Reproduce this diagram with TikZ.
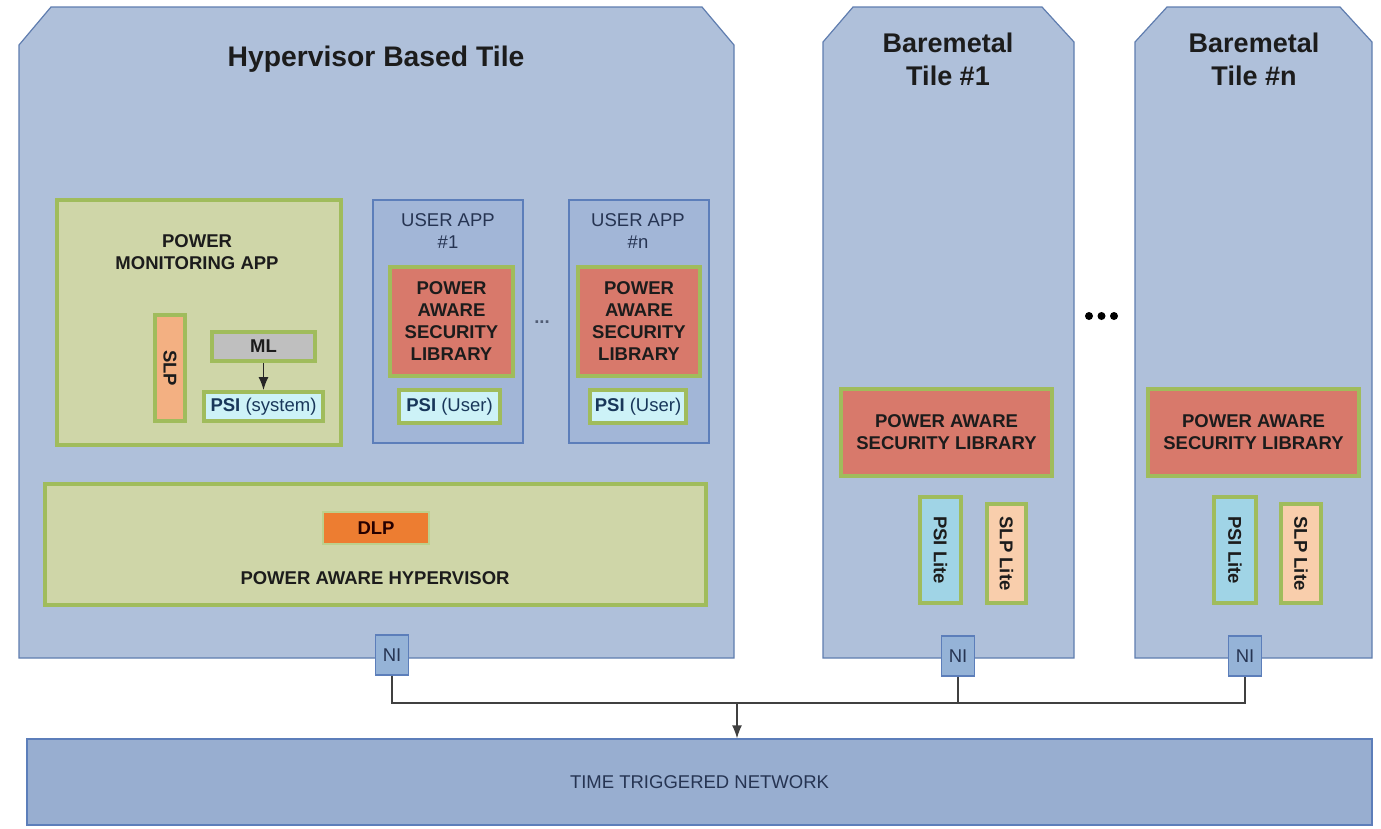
\documentclass[tikz,border=0pt]{standalone}
\usepackage{fontspec}
\setmainfont{Liberation Sans}
\usetikzlibrary{arrows.meta}

\definecolor{tilefill}{RGB}{175,192,218}
\definecolor{tileline}{RGB}{95,125,175}
\definecolor{appfill}{RGB}{162,182,215}
\definecolor{appline}{RGB}{92,126,186}
\definecolor{olive}{RGB}{160,188,92}
\definecolor{olivefill}{RGB}{207,214,168}
\definecolor{paslred}{RGB}{216,121,107}
\definecolor{dlporange}{RGB}{237,125,49}
\definecolor{slporange}{RGB}{243,176,130}
\definecolor{slplite}{RGB}{249,206,172}
\definecolor{mlgray}{RGB}{191,191,191}
\definecolor{psicyan}{RGB}{205,242,247}
\definecolor{psilite}{RGB}{160,212,230}
\definecolor{netfill}{RGB}{152,174,208}
\definecolor{nifill}{RGB}{149,179,215}
\definecolor{inkdark}{RGB}{28,28,28}
\definecolor{inknavy}{RGB}{38,52,82}
\definecolor{inkteal}{RGB}{25,55,90}

\newcommand\bigsz{\fontsize{27}{33}\selectfont}
\newcommand\hugesz{\fontsize{28.3}{34}\selectfont}
\newcommand\midsz{\fontsize{18.5}{22}\selectfont}

\tikzset{
  tileshape/.style={draw=tileline, fill=tilefill, line width=1.2pt, line join=miter},
  grnbox/.style={draw=olive, line width=4pt, inner sep=0pt, align=center,
                 text=inkdark, font=\midsz\bfseries},
  appbox/.style={draw=appline, fill=appfill, line width=1.3pt, inner sep=0pt},
  nibox/.style={draw=appline, fill=nifill, line width=1.3pt, inner sep=0pt,
                minimum width=33pt, minimum height=40pt, font=\midsz, text=inknavy},
  title/.style={font=\bigsz\bfseries, text=inkdark, align=center, inner sep=0pt},
  caption/.style={font=\midsz\bfseries, text=inkdark, align=center, inner sep=0pt},
  plain/.style={font=\midsz, text=inknavy, align=center, inner sep=0pt},
  wire/.style={draw=black!75, line width=1.3pt},
  tip/.style={-{Latex[length=13pt,width=10pt]}},
  dotmark/.style={circle, fill=black, inner sep=0pt, minimum size=8pt},
}

\begin{document}
\begin{tikzpicture}[x=1pt, y=-1pt]
\useasboundingbox (0,0) rectangle (1381,828);

% ---------------- tiles ----------------
\draw[tileshape] (19,658) -- (19,45) -- (51,7) -- (702,7) -- (734,45) -- (734,658) -- cycle;
\draw[tileshape] (823,658) -- (823,42) -- (853,7) -- (1042,7) -- (1074,42) -- (1074,658) -- cycle;
\draw[tileshape] (1135,658) -- (1135,42) -- (1167,7) -- (1340,7) -- (1372,42) -- (1372,658) -- cycle;

\node[title, font=\hugesz\bfseries] (hvtitle) at (376,59) {Hypervisor Based Tile};
\node[title] (b1title) at (948,59) {Baremetal\\Tile \#1};
\node[title] (bntitle) at (1254,59) {Baremetal\\Tile \#n};

% ---------------- power monitoring app ----------------
\node[grnbox, fill=olivefill, minimum width=284pt, minimum height=245pt] (pma) at (199,322.5) {};
\node[caption] (pmatext) at (197,252) {POWER\\MONITORING APP};
\node[grnbox, fill=slporange, rotate=-90, minimum width=106pt, minimum height=30pt] (slp) at (170,368) {SLP};
\node[grnbox, fill=mlgray, minimum width=103pt, minimum height=29pt] (ml) at (263.5,346.5) {ML};
\node[grnbox, fill=psicyan, minimum width=119pt, minimum height=29pt, font=\midsz, text=inkteal] (psisys) at (263.5,406.5) {\textbf{PSI} (system)};
\draw[wire, draw=black!85, tip] (ml.south) -- (psisys.north);

% ---------------- user applications ----------------
\node[appbox, minimum width=150pt, minimum height=243pt] (ua1) at (448,321.5) {};
\node[plain] (ua1text) at (448,231) {USER APP\\\#1};
\node[grnbox, fill=paslred, minimum width=123pt, minimum height=109pt] (pasl1) at (451.5,321.5) {POWER\\AWARE\\SECURITY\\LIBRARY};
\node[grnbox, fill=psicyan, minimum width=101pt, minimum height=33pt, font=\midsz, text=inkteal] (psiu1) at (449.5,406.5) {\textbf{PSI} (User)};

\node[plain, text=inknavy!80, font=\midsz\bfseries] (uadots) at (542,322) {...};

\node[appbox, minimum width=140pt, minimum height=243pt] (uan) at (639,321.5) {};
\node[plain] (uantext) at (638,231) {USER APP\\\#n};
\node[grnbox, fill=paslred, minimum width=122pt, minimum height=109pt] (pasln) at (639,321.5) {POWER\\AWARE\\SECURITY\\LIBRARY};
\node[grnbox, fill=psicyan, minimum width=96pt, minimum height=33pt, font=\midsz, text=inkteal] (psiun) at (638,406.5) {\textbf{PSI} (User)};

% ---------------- hypervisor ----------------
\node[grnbox, fill=olivefill, minimum width=661pt, minimum height=121pt] (hv) at (375.5,544.5) {};
\node[grnbox, draw=olive!70, line width=2pt, fill=dlporange, minimum width=106pt, minimum height=32pt, text=black!85!red] (dlp) at (376,528) {DLP};
\node[caption] (hvtext) at (375,578) {POWER AWARE HYPERVISOR};

% ---------------- baremetal tile #1 ----------------
\node[grnbox, fill=paslred, minimum width=211pt, minimum height=87pt] (paslb1) at (946.5,432.5) {POWER AWARE\\SECURITY LIBRARY};
\node[grnbox, fill=psilite, rotate=-90, minimum width=106pt, minimum height=41pt] (psilb1) at (940.5,550) {PSI Lite};
\node[grnbox, fill=slplite, rotate=-90, minimum width=99pt, minimum height=39pt] (slplb1) at (1006.5,553.5) {SLP Lite};

% ---------------- baremetal tile #n ----------------
\node[grnbox, fill=paslred, minimum width=211pt, minimum height=87pt] (paslbn) at (1253.5,432.5) {POWER AWARE\\SECURITY LIBRARY};
\node[grnbox, fill=psilite, rotate=-90, minimum width=106pt, minimum height=42pt] (psilbn) at (1235,550) {PSI Lite};
\node[grnbox, fill=slplite, rotate=-90, minimum width=99pt, minimum height=40pt] (slplbn) at (1301,553.5) {SLP Lite};

% dots between baremetal tiles
\node[dotmark] (dota) at (1089,316) {};
\node[dotmark] (dotb) at (1101.5,316) {};
\node[dotmark] (dotc) at (1114,316) {};

% ---------------- network interfaces ----------------
\node[nibox] (ni0) at (392,655) {NI};
\node[nibox] (ni1) at (958,656) {NI};
\node[nibox] (nin) at (1245,656) {NI};

% ---------------- network ----------------
\node[draw=appline, fill=netfill, line width=1.3pt, minimum width=1345pt, minimum height=86pt,
      font=\midsz, text=inknavy, inner sep=0pt] (net) at (699.5,782) {TIME TRIGGERED NETWORK};

\coordinate (bus) at (737,703);
\draw[wire] (ni0.south) |- (bus) -| (nin.south);
\draw[wire] (ni1.south) -- (ni1.south |- bus);
\draw[wire, tip] (bus) -- (bus |- net.north);
\end{tikzpicture}
\end{document}
